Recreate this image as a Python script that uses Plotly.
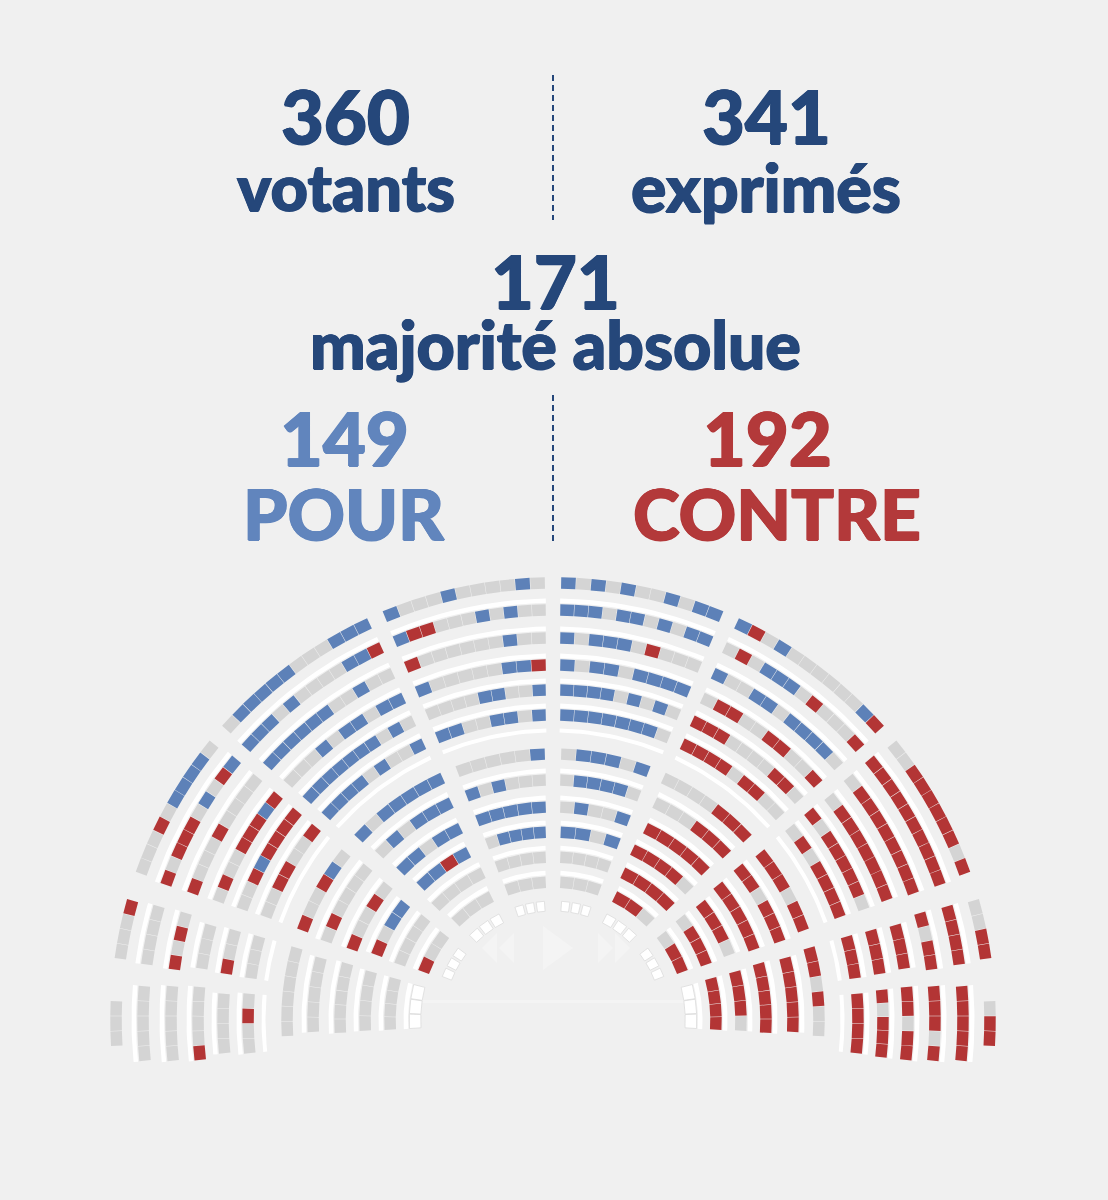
import numpy as np
import plotly.graph_objects as go

# ---------------- data ----------------
STAT_VALUES = ["360", "341", "171", "149", "192"]
STAT_LABELS = ["votants", "exprimés", "majorité absolue", "POUR", "CONTRE"]

# Seat codes: B = pour, R = contre, G = non-votant, W = siège blanc
# Each sector: rows from outermost to innermost; each string runs clockwise
# (left half: from the bottom up to the centre; right half: from the centre down).
L_O1 = ["GGG", "GGGGG", "GGGGG", "RGGGG", "GGGG", "GGRG"]
L_O2 = ["GGGR", "GGGG", "RGRG", "GGG", "RGG", "GGG"]
L_O3 = ["GGGRGBBBBG", "RGRRRGBGRB", "RGGGRGGGG", "GRGGRRRBR", "GGRBRRRR", "GGRRGGR"]
L_O4 = ["GBBBBBGGGBBB", "BBBGBGGGGBBR", "BBBBBBGGBGG", "GGGBGBBGBB", "BBBBBBBGBG", "BBBBGBGGB"]
L_O5 = ["BGGGBGGGGBG", "BRRGGGBGBGG", "RGGGGGGBGG", "BGGGGGBBR", "GGGGBBGGB", "BBGGBBGB"]
R_O5 = ["BGBGBGGBGBB", "BBBGBBGBGBB", "BGBBBGRGGG", "BGBBGBBBB", "BBBBGBGBG", "BBBBBBBG"]
R_O4 = ["BRGBGGGGGGBR", "GRGBBBGRGGGR", "BGGBBGBBBBG", "GRRGGRRGGR", "RRRGGGGRRG", "RRRRGRRGG"]
R_O3 = ["GGRRRRRRGR", "RRRRRRRRRR", "GRRRRRRRR", "GRRRRRRR", "RGRRRRRG", "GRGRRRR"]
R_O2 = ["GGRR", "RRRR", "RGRR", "RRR", "RRR", "RRR"]
R_O1 = ["GRR", "RRRRR", "RRRGR", "RRGRR", "RGRRR", "RRRR"]

L_I1 = ["GGGGGG", "GGGGG", "GGGGG", "GGGG", "GGGG", "WWW"]
L_I2 = ["RGGRBG", "GRGGGG", "RGGRG", "RGBB", "GGGG", "RGG"]
L_I3 = ["BGBBBBB", "GBGBBB", "BBGBB", "BBRB", "GGGG", "GGG"]
L_I4 = ["GGGGGB", "BGBGGG", "BBBBB", "GBBBB", "GGGG", "GGG"]
R_I4 = ["GBBBGB", "GBBBBG", "GBGGB", "BBGB", "GGGG", "GGG"]
R_I3 = ["GGGGRRR", "GGGRRR", "RRRRR", "RRRRG", "RRRR", "RRG"]
R_I2 = ["RRRGRR", "RRGRRR", "RRRRR", "RRRG", "GRRR", "GRR"]
R_I1 = ["RRGRGG", "RRRRR", "RRRRR", "RRRG", "RRRR", "WWW"]

GOV_ROW = ["WWW", "WWW", "WWW", "WWW", "WWW", "WWW"]

# ---------------- layout / geometry ----------------
W, H = 1108, 1200
CX, CY = 553.0, 1020.0
R_OUT = [437, 410, 382, 355, 330, 305]
R_IN = [266, 240, 213, 188, 163, 138]
R_GOV = 114
# aisles: (angle in degrees from the left horizontal, width in px)
AISLES_OUT = [(-6.5, 0), (6.5, 14), (17.8, 20), (40.5, 14), (66.3, 14), (90.0, 14),
              (113.7, 14), (139.5, 14), (162.2, 20), (173.5, 14), (186.5, 0)]
AISLES_IN = [(-3.5, 0), (17.3, 14), (41.3, 14), (67.2, 14), (90.0, 14),
             (112.8, 14), (138.7, 14), (162.7, 14), (183.5, 0)]

BG = "#f0f0f0"
NAVY = "#25477a"
BLUE_TXT = "#6185bd"
RED_TXT = "#b3393a"
SEAT_COLORS = {"B": "#5d81b8", "R": "#b33535", "G": "#d4d4d4", "W": "#ffffff"}

PITCH, GAP, BAND = 15.0, 0.5, 11.5

buckets = {c: ([], []) for c in "GBRW"}
desk = ([], [])


def annulus(r0, r1, a0, a1, k=7):
    t = np.linspace(a0, a1, k)
    xo = CX - r1 * np.cos(t)
    yo = CY - r1 * np.sin(t)
    xi = CX - r0 * np.cos(t[::-1])
    yi = CY - r0 * np.sin(t[::-1])
    xs = list(xo) + list(xi) + [xo[0]]
    ys = list(yo) + list(yi) + [yo[0]]
    return xs, ys


def add(bucket, xs, ys):
    bucket[0].extend(xs + [None])
    bucket[1].extend(ys + [None])


def edges(aisles, k, r):
    (a_lo, w_lo), (a_hi, w_hi) = aisles[k], aisles[k + 1]
    lo = np.radians(a_lo) + (w_lo / 2) / r
    hi = np.radians(a_hi) - (w_hi / 2) / r
    return lo, hi


def place_row(r, lo, hi, codes, pitch=PITCH, gap=GAP, band=BAND):
    n = len(codes)
    p = min(pitch, (hi - lo) * r / n)
    mid = (lo + hi) / 2
    start = mid - n * p / (2 * r)
    for i, c in enumerate(codes):
        a0 = start + (i * p + gap / 2) / r
        a1 = start + ((i + 1) * p - gap / 2) / r
        xs, ys = annulus(r - band / 2, r + band / 2, a0, a1)
        add(buckets[c], xs, ys)
    return start, start + n * p / r


def add_desk(r0, r1, s, e):
    xs, ys = annulus(r0, r1, s, e, 16)
    add(desk, xs, ys)


OUTER = [L_O1, L_O2, L_O3, L_O4, L_O5, R_O5, R_O4, R_O3, R_O2, R_O1]
INNER = [L_I1, L_I2, L_I3, L_I4, R_I4, R_I3, R_I2, R_I1]

for k, sec in enumerate(OUTER):
    for j, codes in enumerate(sec):
        r = R_OUT[j]
        lo, hi = edges(AISLES_OUT, k, r)
        s, e = place_row(r, lo, hi, codes)
        if j > 0:
            add_desk(r + 7, r + 11.5, s, e)
        if j == len(sec) - 1:
            add_desk(r - 17.5, r - 13.5, s, e)

for k, sec in enumerate(INNER):
    for j, codes in enumerate(sec):
        r = R_IN[j]
        lo, hi = edges(AISLES_IN, k, r)
        s, e = place_row(r, lo, hi, codes)
        if j > 0:
            add_desk(r + 7, r + 11.5, s, e)

for k, codes in enumerate(GOV_ROW):
    lo, hi = edges(AISLES_IN, k + 1, R_GOV)
    place_row(R_GOV, lo, hi, codes, pitch=12.5, gap=2.5, band=10)

fig = go.Figure()
fig.add_trace(go.Scatter(x=desk[0], y=desk[1], mode="lines", fill="toself",
                         fillcolor="#ffffff", line=dict(width=0), hoverinfo="skip",
                         showlegend=False))
for c in "GBR":
    fig.add_trace(go.Scatter(x=buckets[c][0], y=buckets[c][1], mode="lines", fill="toself",
                             fillcolor=SEAT_COLORS[c], line=dict(width=0), hoverinfo="skip",
                             showlegend=False))
fig.add_trace(go.Scatter(x=buckets["W"][0], y=buckets["W"][1], mode="lines", fill="toself",
                         fillcolor=SEAT_COLORS["W"], line=dict(width=0.8, color="#dcdcdc"),
                         hoverinfo="skip", showlegend=False))

FONT = "'Lato Black', Lato, 'Open Sans', sans-serif"


def txt(x, y, s, size, color):
    heavy = (f"0.8px 0 0 {color}, -0.8px 0 0 {color}, "
             f"0 0.5px 0 {color}, 0 -0.5px 0 {color}")
    return dict(x=x, y=y, xref="x", yref="y", text=s, showarrow=False,
                xanchor="center", yanchor="middle",
                font=dict(family=FONT, size=size, color=color, weight=900, shadow=heavy))


annotations = [
    txt(345, 115, STAT_VALUES[0], 74, NAVY),
    txt(346, 186, STAT_LABELS[0], 65, NAVY),
    txt(766, 115, STAT_VALUES[1], 74, NAVY),
    txt(766, 186, STAT_LABELS[1], 66, NAVY),
    txt(555, 280, STAT_VALUES[2], 74, NAVY),
    txt(555, 343, STAT_LABELS[2], 66, NAVY),
    txt(344, 437, STAT_VALUES[3], 74, BLUE_TXT),
    txt(344, 512, STAT_LABELS[3], 71, BLUE_TXT),
    txt(767, 437, STAT_VALUES[4], 74, RED_TXT),
    txt(777, 512, STAT_LABELS[4], 71, RED_TXT),
]

# faint video-player overlay visible in the middle of the hemicycle
OVER = "rgba(255,255,255,0.28)"
shapes = [
    dict(type="line", xref="x", yref="y", x0=553, x1=553, y0=75, y1=220,
         line=dict(color=NAVY, width=2, dash="6px,4px")),
    dict(type="line", xref="x", yref="y", x0=553, x1=553, y0=395, y1=545,
         line=dict(color=NAVY, width=2, dash="6px,4px")),
    dict(type="path", xref="x", yref="y", path="M 497 933 L 482 948 L 497 963 Z",
         fillcolor=OVER, line=dict(width=0), layer="below"),
    dict(type="path", xref="x", yref="y", path="M 514 933 L 499 948 L 514 963 Z",
         fillcolor=OVER, line=dict(width=0), layer="below"),
    dict(type="path", xref="x", yref="y", path="M 543 926 L 573 948 L 543 970 Z",
         fillcolor=OVER, line=dict(width=0), layer="below"),
    dict(type="path", xref="x", yref="y", path="M 598 933 L 613 948 L 598 963 Z",
         fillcolor=OVER, line=dict(width=0), layer="below"),
    dict(type="path", xref="x", yref="y", path="M 615 933 L 630 948 L 615 963 Z",
         fillcolor=OVER, line=dict(width=0), layer="below"),
    dict(type="rect", xref="x", yref="y", x0=418, x1=688, y0=1000, y1=1003,
         fillcolor=OVER, line=dict(width=0), layer="below"),
]

fig.update_layout(
    width=W, height=H,
    margin=dict(l=0, r=0, t=0, b=0),
    paper_bgcolor=BG, plot_bgcolor=BG,
    xaxis=dict(range=[0, W], visible=False, fixedrange=True),
    yaxis=dict(range=[H, 0], visible=False, fixedrange=True),
    annotations=annotations, shapes=shapes,
    showlegend=False,
)

fig.write_html(
    "out.html",
    config={"displayModeBar": False},
    post_script="document.body.style.margin='0';document.body.style.background='#f0f0f0';",
)
